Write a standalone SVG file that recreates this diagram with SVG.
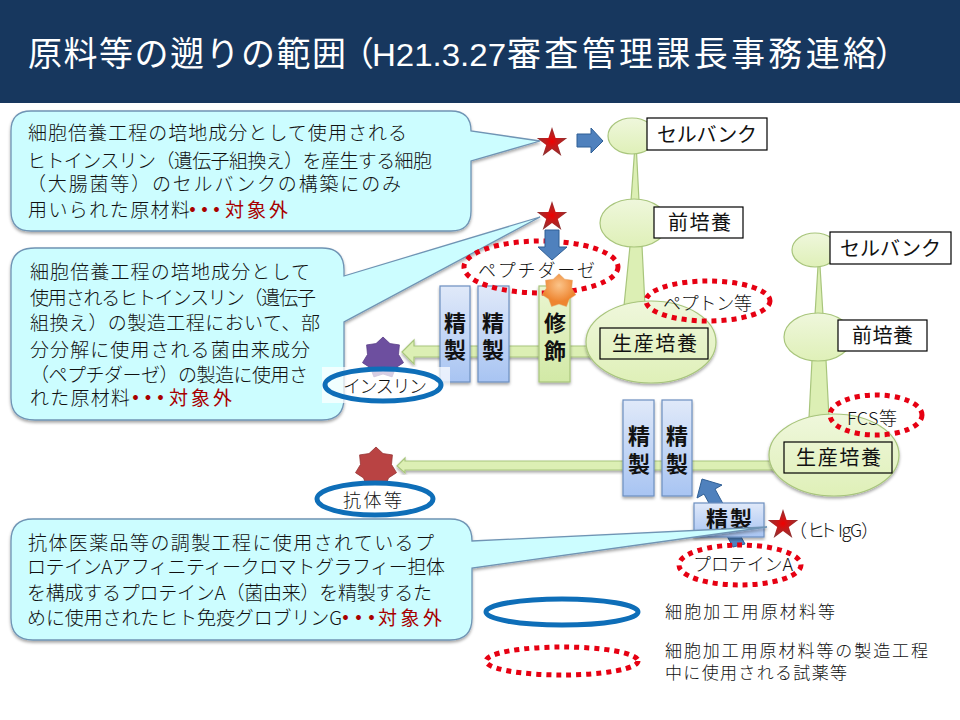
<svg xmlns="http://www.w3.org/2000/svg" xmlns:xlink="http://www.w3.org/1999/xlink" width="960" height="720" viewBox="0 0 960 720">
<style>
text{font-family:"Noto Sans CJK JP","Noto Sans",sans-serif;fill:#111}
.title{font-size:34px;fill:#fff}
.titlel{font-family:"Liberation Sans","Noto Sans CJK JP",sans-serif;font-size:32px;fill:#fff}
.c{font-size:19px;font-weight:300}
.r{font-size:19px;fill:#a80000}
.d{font-size:19px;font-weight:700;fill:#a80000}
.lb{font-size:20px}
.st{font-size:18px;font-weight:300}
.v{font-size:22px;font-weight:700;text-anchor:middle}
.lg{font-size:17px;font-weight:300}
.call{fill:#ccfdff;stroke:#6f94b4;stroke-width:1.3;filter:url(#sh)}
.cell{fill:url(#gn);stroke:#a8c57c;stroke-width:1.2}
.neck{fill:#dcefb4;stroke:#a8c57c;stroke-width:1.2}
.bx{fill:#fff;stroke:#000;stroke-width:1.2}
.bn{fill:none;stroke:#000;stroke-width:1.2}
.pb{fill:url(#bl);stroke:#6d8fc0;stroke-width:1.2;filter:url(#sh)}
.pg{fill:url(#gb);stroke:#a8c57c;stroke-width:1.2;filter:url(#sh)}
.shaft{fill:#dcefb4;stroke:#a8c57c;stroke-width:1.2;filter:url(#sh)}
.ba{fill:#4f81bd;stroke:#2f5f95;stroke-width:1}
.oval{fill:none;stroke:#0e6eb8;stroke-width:5}
.dot{fill:none;stroke:#e60012;stroke-width:5;stroke-dasharray:5 5}
</style>
<defs>
<filter id="sh" x="-10%" y="-10%" width="120%" height="120%"><feDropShadow dx="0" dy="2" stdDeviation="1.6" flood-color="#000" flood-opacity=".35"/></filter>
<linearGradient id="gn" x1="0" y1="0" x2="0" y2="1"><stop offset="0" stop-color="#eff7dc"/><stop offset="1" stop-color="#dff0b8"/></linearGradient>
<linearGradient id="gb" x1="0" y1="0" x2="0" y2="1"><stop offset="0" stop-color="#eaf5d0"/><stop offset="1" stop-color="#d2e9a6"/></linearGradient>
<linearGradient id="bl" x1="0" y1="0" x2="0" y2="1"><stop offset="0" stop-color="#e0e9f9"/><stop offset="1" stop-color="#a8c4f2"/></linearGradient>
<radialGradient id="rs"><stop offset="0" stop-color="#f00000"/><stop offset=".45" stop-color="#c01c1c"/><stop offset="1" stop-color="#8f3232"/></radialGradient>
<radialGradient id="os" cy=".35"><stop offset="0" stop-color="#fbc48a"/><stop offset="1" stop-color="#ee8530"/></radialGradient>
<polygon id="s5" points="0,-16 3.6,-4.9 15.2,-4.9 5.8,1.9 9.4,12.9 0,6.1 -9.4,12.9 -5.800,1.900 -15.200,-4.900 -3.600,-4.900"/>
<polygon id="s7" points="0,-21 7,-14.4 16.4,-13.1 15.500,-3.500 20.5,4.7 12.5,9.9 9.1,18.9 0,16 -9.1,18.9 -12.5,9.9 -20.5,4.7 -15.500,-3.500 -16.4,-13.1 -7,-14.4"/>
</defs>

<rect width="960" height="720" fill="#fff"/>
<g id="title">
<rect width="960" height="103" fill="#17375e"/>
<text class="title" x="28" y="66" textLength="318" lengthAdjust="spacing">原料等の遡りの範囲</text>
<text class="title" x="340" y="66">（</text>
<text class="titlel" x="372" y="66" textLength="134" lengthAdjust="spacingAndGlyphs">H21.3.27</text>
<text class="title" x="507" y="66" textLength="370" lengthAdjust="spacing">審査管理課長事務連絡</text>
<text class="title" x="875" y="66">）</text>
</g>

<g id="chain-a">
<polygon class="neck" points="634.500,152 636.500,152 639,201 631,201"/>
<polygon class="neck" points="630,246 642,246 645,306 624,306"/>
<ellipse class="cell" cx="632" cy="136" rx="24" ry="18"/>
<ellipse class="cell" cx="634" cy="223" rx="34" ry="24"/>
</g>
<g id="chain-b">
<polygon class="neck" points="818,266 820,266 823,315 815,315"/>
<polygon class="neck" points="812,360 826,360 829,418 809,418"/>
<ellipse class="cell" cx="815" cy="250" rx="23" ry="17"/>
<ellipse class="cell" cx="818" cy="337" rx="34" ry="24"/>
</g>

<g id="connectors">
<polygon class="shaft" points="402,352 414,340 414,346 595,346 595,357 414,357 414,364"/>
<polygon class="shaft" points="397,466 405,458 405,461 778,461 778,470 405,470 405,473"/>
<polygon class="ba" points="702,479 722,485 715,489 745,544 733,547 704,494 697,498"/>
</g>

<g id="cell-a-prod"><ellipse class="cell" cx="651" cy="342" rx="65" ry="41" filter="url(#sh)"/></g>
<g id="cell-b-prod"><ellipse class="cell" cx="834" cy="455" rx="65" ry="41" filter="url(#sh)"/></g>

<g id="box-purify-1"><rect class="pb" x="440" y="286" width="30" height="96"/><text class="v" x="455" y="331">精</text><text class="v" x="455" y="358">製</text></g>
<g id="box-purify-2"><rect class="pb" x="478" y="286" width="31" height="96"/><text class="v" x="493" y="331">精</text><text class="v" x="493" y="358">製</text></g>
<g id="box-modify"><rect class="pg" x="539" y="286" width="31" height="96"/><text class="v" x="555" y="331">修</text><text class="v" x="555" y="359">飾</text></g>
<g id="box-purify-3"><rect class="pb" x="623" y="400" width="31" height="96"/><text class="v" x="639" y="444">精</text><text class="v" x="639" y="472">製</text></g>
<g id="box-purify-4"><rect class="pb" x="662" y="400" width="30" height="96"/><text class="v" x="677" y="444">精</text><text class="v" x="677" y="472">製</text></g>
<g id="box-purify-5"><rect class="pb" x="694" y="503" width="70" height="34"/><text class="v" x="729" y="527" textLength="46">精製</text></g>

<g id="callout-1">
<path class="call" d="M31,111H451Q471,111 471,131L540,141L471,161V211Q471,231 451,231H31Q11,231 11,211V131Q11,111 31,111Z"/>
<text class="c" x="28" y="140" textLength="379">細胞倍養工程の培地成分として使用される</text>
<text class="c" x="27" y="168" textLength="405">ヒトインスリン（遺伝子組換え）を産生する細胞</text>
<text class="c" x="27" y="191" textLength="374">（大腸菌等）のセルバンクの構築にのみ</text>
<text class="c" x="28" y="217" textLength="162">用いられた原材料</text>
<text class="d" x="183" y="217" textLength="43">・・・</text>
<text class="r" x="225" y="217" textLength="63">対象外</text>
</g>

<g id="callout-2">
<path class="call" d="M35,248H322Q344,248 344,270V276L540,217L344,322V398Q344,420 322,420H35Q11,420 11,398V270Q11,248 35,248Z"/>
<text class="c" x="30" y="279" textLength="280">細胞倍養工程の培地成分として</text>
<text class="c" x="30" y="305" textLength="286">使用されるヒトインスリン（遺伝子</text>
<text class="c" x="30" y="330" textLength="290">組換え）の製造工程において、部</text>
<text class="c" x="30" y="357" textLength="280">分分解に使用される菌由来成分</text>
<text class="c" x="30" y="382" textLength="278">（ペプチダーゼ）の製造に使用さ</text>
<text class="c" x="30" y="405" textLength="100">れた原材料</text>
<text class="d" x="126" y="405" textLength="44">・・・</text>
<text class="r" x="169" y="405" textLength="63">対象外</text>
</g>

<g id="callout-3">
<path class="call" d="M33,519H450Q472,519 472,541L767,527L472,568V618Q472,640 450,640H33Q11,640 11,618V541Q11,519 33,519Z"/>
<text class="c" x="28" y="550" textLength="406">抗体医薬品等の調製工程に使用されているプ</text>
<text class="c" x="27" y="574" textLength="418">ロテインAアフィニティークロマトグラフィー担体</text>
<text class="c" x="27" y="600" textLength="405">を構成するプロテインA（菌由来）を精製するた</text>
<text class="c" x="27" y="625" textLength="315">めに使用されたヒト免疫グロブリンG</text>
<text class="d" x="336" y="625" textLength="45">・・・</text>
<text class="r" x="378" y="625" textLength="64">対象外</text>
</g>

<g id="label-boxes">
<g id="cellbank-a"><rect class="bx" x="647" y="118" width="120" height="32"/><text class="lb" x="657" y="142" textLength="100">セルバンク</text></g>
<g id="preculture-a"><rect class="bx" x="654" y="207" width="89" height="31"/><text class="lb" x="668" y="230" textLength="63">前培養</text></g>
<g id="production-a"><rect class="bn" x="600" y="328" width="108" height="31"/><text class="lb" x="612" y="351" textLength="85">生産培養</text></g>
<g id="cellbank-b"><rect class="bx" x="830" y="232" width="121" height="32"/><text class="lb" x="840" y="256" textLength="101">セルバンク</text></g>
<g id="preculture-b"><rect class="bx" x="838" y="320" width="89" height="31"/><text class="lb" x="852" y="343" textLength="61">前培養</text></g>
<g id="production-b"><rect class="bn" x="784" y="442" width="108" height="31"/><text class="lb" x="796" y="465" textLength="85">生産培養</text></g>
</g>

<g id="star-1"><use xlink:href="#s5" href="#s5" x="552" y="143" fill="url(#rs)"/></g>
<g id="star-2"><use xlink:href="#s5" href="#s5" x="552" y="217" fill="url(#rs)"/></g>
<g id="star-3"><use xlink:href="#s5" href="#s5" x="783" y="525" fill="url(#rs)"/></g>
<g id="text-human-igg"><text class="st" x="789" y="537">（</text><text class="st" x="807" y="537" textLength="30">ヒト</text><text class="st" x="838" y="537" textLength="24">IgG</text><text class="st" x="861" y="537">）</text></g>

<g id="peptidase"><ellipse class="dot" cx="541" cy="267" rx="77" ry="26"/><text class="st" x="478" y="277" textLength="117">ペプチダーゼ</text></g>
<g id="modify-star"><use xlink:href="#s7" href="#s7" transform="translate(559,291) scale(.82)" fill="url(#os)" stroke="#e0a060" stroke-width=".6"/></g>
<g id="connectors-blue">
<polygon class="ba" points="577,134 591,134 591,128 603,141 591,153 591,147 577,147"/>
<polygon class="ba" points="545,230 559,230 559,247 567,247 552,260 538,247 545,247"/>
</g>
<g id="peptone"><ellipse class="dot" cx="708" cy="301" rx="62" ry="20"/><text class="st" x="663" y="310" textLength="89">ペプトン等</text></g>
<g id="fcs"><ellipse class="dot" cx="876" cy="415" rx="46" ry="20"/><text class="st" x="847" y="425" textLength="50">FCS等</text></g>
<g id="protein-a"><ellipse class="dot" cx="740" cy="565" rx="61" ry="20"/><text class="st" x="693" y="571" textLength="100">プロテインA</text></g>

<g id="insulin">
<use xlink:href="#s7" href="#s7" x="383" y="358" fill="#6d4f9f" stroke="#5a3f88" stroke-width=".8"/>
<rect x="322" y="367" width="128" height="36" fill="#fff" fill-opacity=".72"/>
<ellipse class="oval" cx="383" cy="385" rx="58" ry="16"/>
<text class="st" x="343" y="393" textLength="84">インスリン</text>
</g>
<g id="antibody">
<use xlink:href="#s7" href="#s7" x="376" y="468" fill="#b94343" stroke="#973434" stroke-width=".8"/>
<ellipse class="oval" cx="375" cy="499" rx="58" ry="16" style="fill:#fff"/>
<text class="st" x="343" y="507" textLength="59">抗体等</text>
</g>

<g id="legend-blue"><ellipse class="oval" cx="562" cy="612" rx="76" ry="13"/><text class="lg" x="665" y="618" textLength="170">細胞加工用原材料等</text></g>
<g id="legend-red"><ellipse class="dot" cx="562" cy="661" rx="76" ry="14"/><text class="lg" x="665" y="657" textLength="263">細胞加工用原材料等の製造工程</text><text class="lg" x="665" y="679" textLength="182">中に使用される試薬等</text></g>
</svg>
